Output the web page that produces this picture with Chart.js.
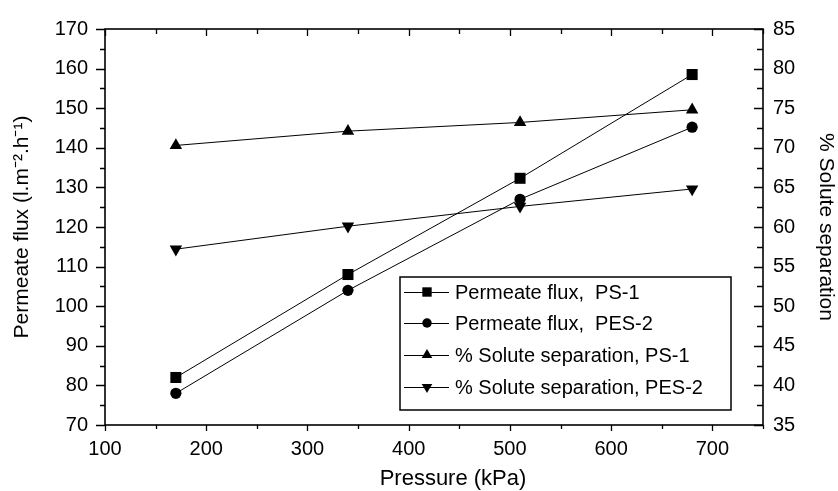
<!DOCTYPE html>
<html>
<head>
<meta charset="utf-8">
<script src="https://cdn.jsdelivr.net/npm/chart.js@4/dist/chart.umd.min.js"></script>
<style>
  html, body { margin: 0; padding: 0; background: #fff; }
  #wrap { width: 838px; height: 491px; }
</style>
</head>
<body>
<div id="wrap"><canvas id="chart" width="838" height="491"></canvas></div>
<script>
// Data
const pressure = [170, 340, 510, 680];
const fluxPS1 = [82, 108, 132.3, 158.5];
const fluxPES2 = [78, 104, 127, 145.2];
const sepPS1 = [70.3, 72.1, 73.2, 74.8];
const sepPES2 = [57.2, 60.1, 62.6, 64.8];
const seriesLabels = ['Permeate flux,  PS-1', 'Permeate flux,  PES-2', '% Solute separation, PS-1', '% Solute separation, PES-2'];
const xTicks = [100, 200, 300, 400, 500, 600, 700];
const xTitle = 'Pressure (kPa)';

const FONT = "'Liberation Sans', Arial, sans-serif";
Chart.defaults.color = '#000';
Chart.defaults.font.family = FONT;

function toPoints(ys) {
    return pressure.map(function(x, i) { return { x: x, y: ys[i] }; });
}

function makeSet(label, ys, axis, style, radius, rotation) {
    return {
        label: label,
        data: toPoints(ys),
        yAxisID: axis,
        borderColor: '#000',
        borderWidth: 1,
        backgroundColor: '#000',
        pointStyle: style,
        pointRadius: radius,
        pointRotation: rotation,
        pointBackgroundColor: '#000',
        pointBorderColor: '#000',
        pointBorderWidth: 0,
        tension: 0,
        fill: false
    };
}

// draw a marker shape (used in the custom legend)
function drawMarker(ctx, style, x, y, r, rot) {
    ctx.beginPath();
    if (style === 'rect') {
        const s = r * Math.SQRT1_2;
        ctx.rect(x - s, y - s, 2 * s, 2 * s);
    } else if (style === 'circle') {
        ctx.arc(x, y, r, 0, Math.PI * 2);
    } else {
        const a0 = (rot || 0) * Math.PI / 180 - Math.PI / 2;
        for (let k = 0; k < 3; k++) {
            const a = a0 + k * 2 * Math.PI / 3;
            const px = x + Math.cos(a) * r, py = y + Math.sin(a) * r;
            if (k === 0) ctx.moveTo(px, py); else ctx.lineTo(px, py);
        }
        ctx.closePath();
    }
    ctx.fill();
}

// frame with major / minor ticks, like the original plot
const framePlugin = {
    id: 'frame',
    afterDatasetsDraw(chart) {
        const ctx = chart.ctx;
        const a = chart.chartArea;
        const xs = chart.scales.x, yl = chart.scales.y, yr = chart.scales.y2;
        ctx.save();
        ctx.strokeStyle = '#000';
        ctx.lineWidth = 1.6;
        ctx.strokeRect(a.left, a.top, a.right - a.left, a.bottom - a.top);
        ctx.lineWidth = 1.3;
        ctx.beginPath();
        // bottom axis (outward) and top axis (inward)
        for (let v = 100; v <= 750; v += 50) {
            const px = Math.round(xs.getPixelForValue(v)) + 0.5;
            const major = v % 100 === 0;
            ctx.moveTo(px, a.bottom); ctx.lineTo(px, a.bottom + (major ? 6 : 4));
            ctx.moveTo(px, a.top); ctx.lineTo(px, a.top + (major ? 7 : 5));
        }
        // left axis (outward)
        for (let v = 70; v <= 170; v += 5) {
            const py = Math.round(yl.getPixelForValue(v)) + 0.5;
            const major = v % 10 === 0;
            ctx.moveTo(a.left, py); ctx.lineTo(a.left - (major ? 9 : 5), py);
        }
        // right axis (inward)
        for (let v = 35; v <= 85; v += 2.5) {
            const py = Math.round(yr.getPixelForValue(v)) + 0.5;
            const major = v % 5 === 0;
            ctx.moveTo(a.right, py); ctx.lineTo(a.right - (major ? 9 : 6), py);
        }
        ctx.stroke();

        // x axis title, sits a bit right of centre in the original
        ctx.fillStyle = '#000';
        ctx.font = '22px ' + FONT;
        ctx.textAlign = 'center';
        ctx.textBaseline = 'middle';
        ctx.fillText(xTitle, 453, 479);
        ctx.restore();
    }
};

// legend box inside the plot area
const legendPlugin = {
    id: 'boxLegend',
    afterDraw(chart) {
        const ctx = chart.ctx;
        const box = { left: 400, top: 277, right: 731, bottom: 410 };
        const rowY = [292, 323, 355, 387];
        ctx.save();
        ctx.fillStyle = '#fff';
        ctx.fillRect(box.left, box.top, box.right - box.left, box.bottom - box.top);
        ctx.strokeStyle = '#000';
        ctx.lineWidth = 1.5;
        ctx.strokeRect(box.left, box.top, box.right - box.left, box.bottom - box.top);
        ctx.font = '20px ' + FONT;
        ctx.textBaseline = 'middle';
        chart.data.datasets.forEach(function(ds, i) {
            const y = rowY[i];
            ctx.strokeStyle = '#000';
            ctx.lineWidth = 1;
            ctx.beginPath();
            ctx.moveTo(404, y + 0.5); ctx.lineTo(449, y + 0.5);
            ctx.stroke();
            ctx.fillStyle = '#000';
            drawMarker(ctx, ds.pointStyle, 427, y, ds.pointRadius * 0.85, ds.pointRotation);
            ctx.fillText(ds.label, 455, y + 1);
        });
        ctx.restore();
    }
};

const chart = new Chart(document.getElementById('chart'), {
    type: 'line',
    data: {
        datasets: [
            makeSet(seriesLabels[0], fluxPS1, 'y', 'rect', 7.8, 0),
            makeSet(seriesLabels[1], fluxPES2, 'y', 'circle', 5.6, 0),
            makeSet(seriesLabels[2], sepPS1, 'y2', 'triangle', 7.2, 0),
            makeSet(seriesLabels[3], sepPES2, 'y2', 'triangle', 7.2, 180)
        ]
    },
    options: {
        responsive: false,
        animation: false,
        layout: { padding: { top: 25, left: 0, right: 0, bottom: 0 } },
        plugins: {
            legend: { display: false },
            tooltip: { enabled: false }
        },
        scales: {
            x: {
                type: 'linear',
                min: 100,
                max: 750,
                grid: { display: false, drawTicks: false },
                border: { display: false },
                ticks: { font: { size: 20 }, padding: 12, maxRotation: 0 },
                afterBuildTicks: function(scale) {
                    scale.ticks = xTicks.map(function(v) { return { value: v }; });
                },
                afterFit: function(scale) { scale.height = 66; },
                title: { display: false }
            },
            y: {
                position: 'left',
                min: 70,
                max: 170,
                grid: { display: false, drawTicks: false },
                border: { display: false },
                ticks: { stepSize: 10, font: { size: 20 }, padding: 17 },
                afterFit: function(scale) { scale.width = 105; },
                title: { display: true, text: 'Permeate flux (l.m\u207B\u00B2.h\u207B\u00B9)', font: { size: 21 }, padding: { top: 10, bottom: 0 } }
            },
            y2: {
                position: 'right',
                min: 35,
                max: 85,
                grid: { display: false, drawTicks: false },
                border: { display: false },
                ticks: { stepSize: 5, font: { size: 20 }, padding: 10 },
                afterFit: function(scale) { scale.width = 75; },
                title: { display: true, text: '% Solute separation', font: { size: 21 }, padding: { top: 0, bottom: 4 } }
            }
        }
    },
    plugins: [framePlugin, legendPlugin]
});
</script>
</body>
</html>
